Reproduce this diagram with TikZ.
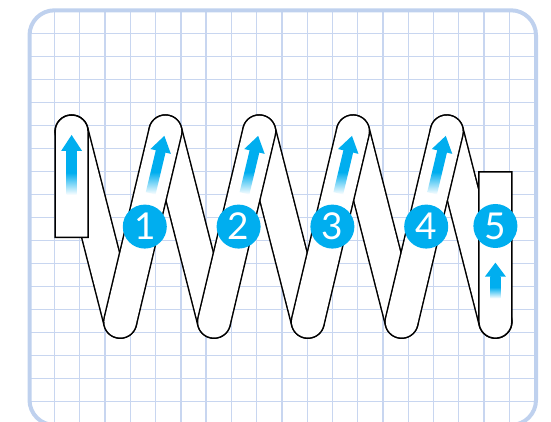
\documentclass[tikz,border=0pt]{standalone}
\usepackage{fontspec}
\setsansfont{Lato}
\usepackage{tikz}
\usetikzlibrary{calc}
\usetikzlibrary{positioning}

\definecolor{sky}{HTML}{00AEEF}
\definecolor{framecol}{HTML}{BFD1EE}
\definecolor{gridcol}{HTML}{C8D6F0}

\tikzset{
  coil/.style={line width=34.5pt, line cap=round, black},
  coilfill/.style={line width=31.5pt, line cap=round, white},
  coilend/.style={fill=white, draw=black, line width=1.5pt},
  stepnum/.style={circle, fill=sky, minimum size=44pt, inner sep=0pt, text=white, font=\sffamily\fontsize{37}{37}\selectfont},
}

% tip, angle, shaft length, head length
\newcommand{\flowarrow}[4]{%
  \begin{scope}[shift={#1}, rotate=#2]
    \shade[bottom color=white, top color=sky, middle color=sky] (-5,-#4-#3) rectangle (5,-#4+0.5);
    \fill[sky] (0,0) -- (-10.5,-#4) -- (10.5,-#4) -- cycle;
  \end{scope}
}

\begin{document}
\begin{tikzpicture}[x=1pt, y=1pt]
    \useasboundingbox (0,0) rectangle (551,422);
    % graph paper
    \begin{scope}
      \clip[rounded corners=25pt] (29.5,-3) rectangle (536,411.7);
      \foreach \i in {0,...,18}
        \draw[gridcol, line width=1.3pt] (54.5+25.27*\i,0) -- ++(0,422);
      \foreach \j in {0,...,16}
        \draw[gridcol, line width=1.3pt] (0,388.7-23*\j) -- ++(551,0);
    \end{scope}
    \draw[framecol, line width=4pt, rounded corners=25pt] (29.5,-3) rectangle (536,411.7);

    % top and bottom turns of the coil
    \foreach \k in {0,...,4}
      \coordinate (t\k) at (71.6+93.8*\k, 290.5);
    \foreach \k in {1,...,5}
      \coordinate (b\k) at (26.4+93.8*\k, 100.3);

    % back side of the coil
    \foreach \k [count=\n from 1] in {0,...,4} {
      \draw[coil] (t\k) -- (b\n);
      \draw[coilfill] (t\k) -- (b\n);
    }
    % front side of the coil
    \foreach \k in {1,...,4} {
      \draw[coil] (b\k) -- (t\k);
      \draw[coilfill] (b\k) -- (t\k);
    }
    % loose ends
    \draw[coilend] (t0) ++(-16.5,-105.8) -- ++(0,105.8) arc[start angle=180, end angle=0, radius=16.5] -- ++(0,-105.8) -- cycle;
    \draw[coilend] (b5) ++(-16.5,149.7) -- ++(0,-149.7) arc[start angle=180, end angle=360, radius=16.5] -- ++(0,149.7) -- cycle;

    % arrows
    \flowarrow{($(t0)+(0,-3.5)$)}{0}{44}{16}
    \foreach \k in {1,...,4} {
      \flowarrow{($(t\k)!4.5pt!(b\k)$)}{-13.4}{43}{16}
    }
    \flowarrow{($(b5)+(0,59)$)}{0}{21.6}{14}

    % numbers
    \foreach \k in {1,...,4}
      \node[stepnum] (n\k) at ($(b\k)!0.5!(t\k)+(2,0)$) {\k};
    \node[stepnum] (n5) at ($(b5)+(0,95.7)$) {5};
\end{tikzpicture}
\end{document}
